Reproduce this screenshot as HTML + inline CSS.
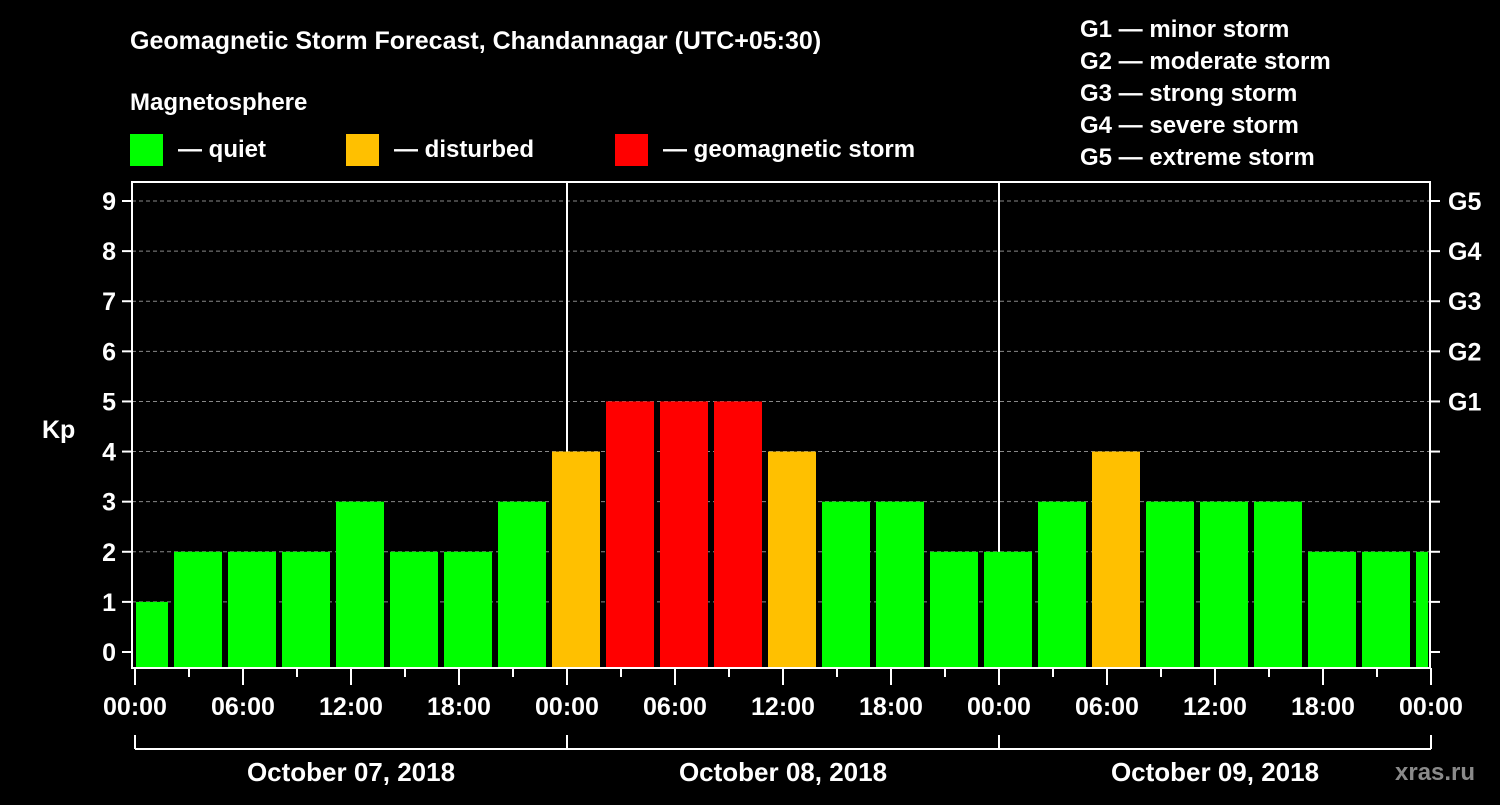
<!DOCTYPE html>
<html><head><meta charset="utf-8"><style>
html,body{margin:0;padding:0;background:#000;}
svg text{font-family:"Liberation Sans",Arial,sans-serif;font-weight:bold;fill:#fff;}
</style></head><body>
<svg id="chart" width="1500" height="800" viewBox="0 0 1500 800" xmlns="http://www.w3.org/2000/svg">
<rect x="0" y="0" width="1500" height="800" fill="#000"/>
<text x="130" y="49" font-size="25">Geomagnetic Storm Forecast, Chandannagar (UTC+05:30)</text>
<text x="130" y="110" font-size="24">Magnetosphere</text>
<g><rect x="130" y="134" width="33" height="32" fill="#00ff00"/><text x="178" y="157" font-size="24">— quiet</text></g>
<g><rect x="346" y="134" width="33" height="32" fill="#ffc000"/><text x="394" y="157" font-size="24">— disturbed</text></g>
<g><rect x="615" y="134" width="33" height="32" fill="#ff0000"/><text x="663" y="157" font-size="24">— geomagnetic storm</text></g>
<g font-size="24">
<text x="1080" y="37">G1 — minor storm</text>
<text x="1080" y="69">G2 — moderate storm</text>
<text x="1080" y="101">G3 — strong storm</text>
<text x="1080" y="133">G4 — severe storm</text>
<text x="1080" y="165">G5 — extreme storm</text>
</g>
<g id="grid"></g>
<g id="bars"></g>
<g id="axes"></g>
<text x="42" y="438" font-size="25">Kp</text>
<text x="1395" y="780" font-size="24" fill="#888" style="fill:#8a8a8a">xras.ru</text>
</svg>
<script>
const kpValues=[1,2,2,2,3,2,2,3,4,5,5,5,4,3,3,2,2,3,4,3,3,3,2,2,2];
const yTicks=[0,1,2,3,4,5,6,7,8,9];
const gLabels=["G1","G2","G3","G4","G5"];
const gLevels=[5,6,7,8,9];
const xTickLabels=["00:00","06:00","12:00","18:00","00:00","06:00","12:00","18:00","00:00","06:00","12:00","18:00","00:00"];
const dayLabels=["October 07, 2018","October 08, 2018","October 09, 2018"];
const firstBinStartHour=-2; // bins start at 02:00-3h offsets
const NS="http://www.w3.org/2000/svg";
const L=132,R=1430,T=182,B=668,X0=135,PXH=18;
const y=v=>652-v*50.11;
const x=h=>X0+h*PXH;
function mk(tag,attrs,parent){const e=document.createElementNS(NS,tag);for(const k in attrs)e.setAttribute(k,attrs[k]);parent.appendChild(e);return e;}
const grid=document.getElementById('grid'),bars=document.getElementById('bars'),axes=document.getElementById('axes');
yTicks.forEach(v=>{if(v>0){const l=mk('line',{x1:L,x2:R,y1:y(v),y2:y(v),stroke:'#888','stroke-dasharray':'4,3','stroke-width':1},grid);

}});
[24,48].forEach(h=>{const l=mk('line',{x1:x(h),x2:x(h),y1:T,y2:B,stroke:'#fff','stroke-width':2},grid);

});
kpValues.forEach((v,i)=>{
 let h0=firstBinStartHour+3*(i-1)+3*0; h0=i===0?-1:2+3*(i-1);
 let h1=i===0?2:h0+3;
 let x0=Math.max(x(h0)+3,L+4),x1=Math.min(x(h1)-3,R-2);
 const col=v>=5?'#ff0000':(v>=4?'#ffc000':'#00ff00');
 const r=mk('rect',{x:x0,y:y(v),width:x1-x0,height:B-y(v),fill:col},bars);
 
 
});
mk('rect',{x:L,y:T,width:R-L,height:B-T,fill:'none',stroke:'#fff','stroke-width':2},axes);
yTicks.forEach(v=>{
 mk('line',{x1:L-10,x2:L,y1:y(v),y2:y(v),stroke:'#fff','stroke-width':2},axes);
 mk('line',{x1:R,x2:R+10,y1:y(v),y2:y(v),stroke:'#fff','stroke-width':2},axes);
 const t=mk('text',{x:L-16,y:y(v)+9,'font-size':25,'text-anchor':'end'},axes);t.textContent=v;
 
 
});
gLevels.forEach((v,i)=>{const t=mk('text',{x:R+18,y:y(v)+9,'font-size':25},axes);t.textContent=gLabels[i];
 
 });
for(let h=0;h<=72;h+=3){const maj=h%6===0;mk('line',{x1:x(h),x2:x(h),y1:B,y2:B+(maj?17:9),stroke:'#fff','stroke-width':2},axes);}
xTickLabels.forEach((s,i)=>{const t=mk('text',{x:x(i*6),y:715,'font-size':25,'text-anchor':'middle'},axes);t.textContent=s;
 
 });
mk('line',{x1:x(0),x2:x(72),y1:749,y2:749,stroke:'#fff','stroke-width':2},axes);
[0,24,48,72].forEach(h=>mk('line',{x1:x(h),x2:x(h),y1:735,y2:749,stroke:'#fff','stroke-width':2},axes));
dayLabels.forEach((s,i)=>{const t=mk('text',{x:x(i*24+12),y:781,'font-size':26,'text-anchor':'middle'},axes);t.textContent=s;
 
 });
</script>
</body></html>
